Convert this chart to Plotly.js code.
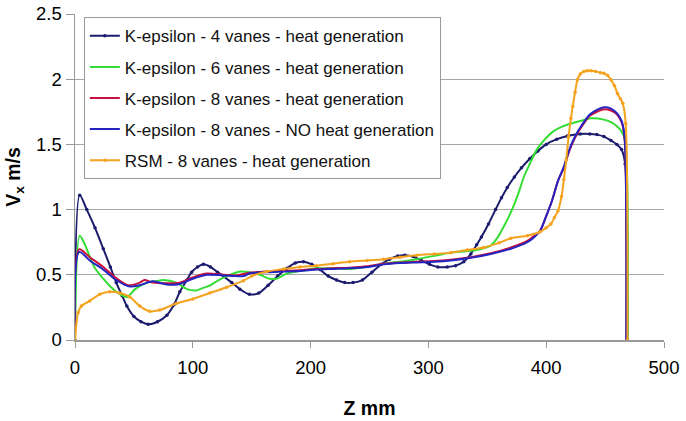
<!DOCTYPE html>
<html>
<head>
<meta charset="utf-8">
<script src="https://cdn.plot.ly/plotly-3.0.1.min.js"></script>
<style>html,body{margin:0;padding:0;background:#fff;}#chart{width:686px;height:421px;}</style>
</head>
<body>
<div id="chart"></div>
<script>
// Series names
const seriesNames = [
  "K-epsilon - 4 vanes - heat generation",
  "K-epsilon - 6 vanes - heat generation",
  "K-epsilon - 8 vanes - heat generation",
  "K-epsilon - 8 vanes - NO heat generation",
  "RSM - 8 vanes - heat generation"
];

// K-epsilon 4 vanes
const z4 = [0, 4, 10, 17, 24, 30, 35, 40, 44, 50, 56, 62, 70, 78, 84, 89, 95, 99, 104, 109, 115, 121, 126, 133, 140, 148, 156, 164, 172, 180, 187, 194, 201, 208, 215, 222, 229, 236, 244, 252, 260, 267, 274, 280, 287, 294, 301, 308, 316, 323, 330, 336, 341, 345, 351, 357, 362, 367, 373, 379, 386, 393, 400, 409, 418, 429, 437, 443, 449, 455, 460, 464, 467, 469];
const v4 = [0, 1.11, 1.00, 0.86, 0.70, 0.56, 0.44, 0.34, 0.26, 0.18, 0.14, 0.12, 0.14, 0.19, 0.27, 0.37, 0.46, 0.52, 0.56, 0.58, 0.56, 0.52, 0.49, 0.44, 0.39, 0.35, 0.36, 0.42, 0.49, 0.55, 0.59, 0.60, 0.58, 0.54, 0.49, 0.46, 0.44, 0.44, 0.46, 0.52, 0.58, 0.62, 0.645, 0.65, 0.64, 0.61, 0.58, 0.56, 0.56, 0.57, 0.60, 0.66, 0.73, 0.79, 0.89, 1.0, 1.09, 1.17, 1.25, 1.32, 1.39, 1.45, 1.50, 1.54, 1.565, 1.58, 1.58, 1.575, 1.56, 1.53, 1.50, 1.46, 1.35, 0];

// K-epsilon 6 vanes
const z6 = [0, 4, 8, 12.5, 17, 24, 30, 35, 44, 51, 61, 68, 75, 86, 95, 103, 109, 115, 122, 129, 140, 148, 157, 165, 171, 180, 192, 205, 218, 233, 248, 262, 276, 290, 305, 319, 332, 341, 353, 359, 364, 368, 372, 377, 381, 386, 392, 399, 406, 413, 421, 429, 438, 449, 455, 460, 464, 467, 469];
const v6 = [0, 0.80, 0.74, 0.64, 0.55, 0.47, 0.41, 0.37, 0.33, 0.39, 0.44, 0.45, 0.46, 0.44, 0.39, 0.38, 0.40, 0.42, 0.46, 0.49, 0.525, 0.52, 0.50, 0.47, 0.47, 0.51, 0.53, 0.55, 0.55, 0.545, 0.56, 0.585, 0.60, 0.62, 0.645, 0.67, 0.68, 0.69, 0.725, 0.79, 0.87, 0.94, 1.02, 1.14, 1.25, 1.35, 1.46, 1.54, 1.60, 1.635, 1.66, 1.68, 1.70, 1.69, 1.67, 1.64, 1.60, 1.53, 0];

// K-epsilon 8 vanes
const z8 = [0, 3.5, 12.5, 24, 35, 45, 55, 59, 66, 78, 89, 100, 112, 126, 137, 148, 163, 177, 191, 205, 219, 233, 248, 262, 276, 290, 305, 319, 336, 353, 370, 384, 390, 395, 400, 405, 410, 415, 420, 425, 430, 437, 443, 449, 455, 460, 464, 466.5, 468];
const v8 = [0, 0.695, 0.635, 0.56, 0.475, 0.42, 0.44, 0.46, 0.44, 0.435, 0.44, 0.48, 0.51, 0.50, 0.495, 0.515, 0.525, 0.53, 0.535, 0.545, 0.55, 0.555, 0.565, 0.585, 0.595, 0.60, 0.605, 0.615, 0.635, 0.665, 0.71, 0.76, 0.80, 0.84, 0.95, 1.07, 1.22, 1.32, 1.46, 1.56, 1.635, 1.72, 1.75, 1.77, 1.76, 1.73, 1.67, 1.55, 0];

// K-epsilon 8 vanes NO heat generation
const z8n = [0, 3.5, 12.5, 24, 35, 46.5, 55, 66, 78, 89, 100, 112, 126, 143, 148, 163, 177, 191, 205, 219, 233, 248, 262, 276, 290, 305, 319, 336, 353, 370, 384, 390, 395, 400, 405, 410, 415, 420, 425, 430, 437, 443, 449, 455, 460, 464, 466.5, 468];
const v8n = [0, 0.675, 0.61, 0.54, 0.46, 0.41, 0.42, 0.45, 0.425, 0.43, 0.47, 0.50, 0.495, 0.49, 0.51, 0.52, 0.525, 0.53, 0.54, 0.545, 0.55, 0.56, 0.58, 0.59, 0.595, 0.60, 0.61, 0.63, 0.66, 0.70, 0.75, 0.79, 0.84, 0.95, 1.07, 1.22, 1.33, 1.47, 1.57, 1.645, 1.73, 1.765, 1.785, 1.775, 1.74, 1.68, 1.56, 0];

// RSM 8 vanes
const zr = [0, 2.6, 5.4, 12.5, 21, 29.5, 38, 46.5, 55, 63.5, 72, 86, 100, 114.5, 128.7, 143, 150, 163, 177, 191, 205, 219, 233, 248, 262, 276, 290, 305, 319, 333, 347, 360, 370, 384, 395, 400, 404, 407, 410, 413, 415, 417, 419, 421, 422.5, 424.5, 426.5, 429, 432, 435, 438, 442, 446, 449, 452, 455, 458, 460.5, 463, 465, 467.5, 469];
const vr = [0, 0.21, 0.26, 0.30, 0.35, 0.37, 0.36, 0.33, 0.26, 0.22, 0.23, 0.28, 0.315, 0.36, 0.405, 0.455, 0.49, 0.525, 0.545, 0.56, 0.57, 0.585, 0.60, 0.61, 0.62, 0.635, 0.65, 0.66, 0.67, 0.69, 0.71, 0.745, 0.78, 0.80, 0.83, 0.86, 0.89, 0.94, 0.99, 1.10, 1.23, 1.38, 1.56, 1.70, 1.79, 1.90, 1.995, 2.04, 2.06, 2.065, 2.065, 2.06, 2.05, 2.045, 2.03, 1.995, 1.95, 1.89, 1.85, 1.815, 1.66, 0];

const xTicks = [0, 100, 200, 300, 400, 500];
const yTicks = [0, 0.5, 1, 1.5, 2, 2.5];
const yTickText = ["0", "0.5", "1", "1.5", "2", "2.5"];

const colors = ["#1c1c6e", "#33dd33", "#c8103a", "#2424c0", "#f5a21e"];
const xs = [z4, z6, z8, z8n, zr];
const ys = [v4, v6, v8, v8n, vr];
const withMarkers = [true, false, false, false, true];

const traces = seriesNames.map((name, i) => ({
  type: "scatter",
  mode: withMarkers[i] ? "lines+markers" : "lines",
  name: name,
  x: xs[i],
  y: ys[i],
  legendgroup: "g" + i,
  line: {color: colors[i], width: 2, shape: "spline", smoothing: 0.8},
  marker: {color: colors[i], size: 3.5, symbol: "circle"}
}));

const layout = {
  width: 686,
  height: 421,
  margin: {l: 75, r: 22, t: 14, b: 81, pad: 0},
  paper_bgcolor: "#ffffff",
  plot_bgcolor: "#ffffff",
  font: {family: "Liberation Sans, Arial, sans-serif", color: "#000"},
  showlegend: true,
  legend: {
    x: 0.015, y: 0.99, xanchor: "left", yanchor: "top",
    bgcolor: "#ffffff", bordercolor: "#9a9a9a", borderwidth: 1,
    font: {size: 17, family: "Liberation Sans, Arial, sans-serif", color: "#111"},
    tracegroupgap: 6,
    itemwidth: 30
  },
  xaxis: {
    range: [0, 500],
    tickvals: xTicks,
    ticktext: xTicks.map(String),
    showgrid: false,
    zeroline: false,
    showline: true,
    linecolor: "#999999",
    linewidth: 1.5,
    ticks: "outside",
    ticklen: 6,
    tickcolor: "#999999",
    tickfont: {size: 18.5},
    ticklabelstandoff: 4,
    title: {text: "<b>Z mm</b>", font: {size: 19.5}, standoff: 24}
  },
  yaxis: {
    range: [0, 2.5],
    tickvals: yTicks,
    ticktext: yTickText,
    showgrid: true,
    gridcolor: "#a6a6a6",
    gridwidth: 1.3,
    zeroline: false,
    showline: true,
    linecolor: "#999999",
    linewidth: 1.5,
    ticks: "outside",
    ticklen: 8,
    tickcolor: "#999999",
    tickfont: {size: 18.5},
    title: {text: "<b>V<sub>x</sub> m/s</b>", font: {size: 19.5}, standoff: 10}
  }
};

Plotly.newPlot("chart", traces, layout, {staticPlot: true, displayModeBar: false});
</script>
</body>
</html>
